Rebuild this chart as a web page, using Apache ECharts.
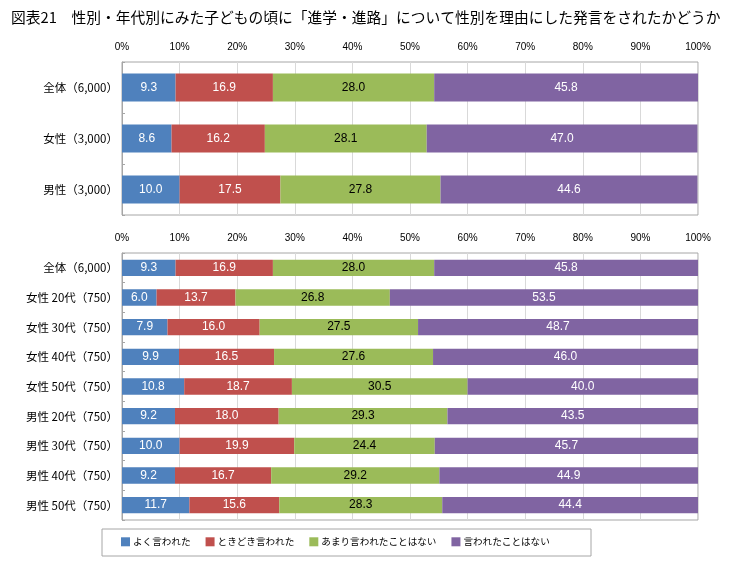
<!DOCTYPE html>
<html>
<head>
<meta charset="utf-8">
<script src="https://cdn.jsdelivr.net/npm/echarts@6/dist/echarts.min.js"></script>
<style>
  html, body { margin: 0; padding: 0; background: #fff; }
  #chart { width: 735px; height: 568px; }
</style>
</head>
<body>
<div id="chart"></div>
<script>
// 上段：性別
const topCategories = ["全体（6,000）", "女性（3,000）", "男性（3,000）"];
const topOften = [9.3, 8.6, 10.0];
const topSometimes = [16.9, 16.2, 17.5];
const topRarely = [28.0, 28.1, 27.8];
const topNever = [45.8, 47.0, 44.6];

// 下段：性別・年代別
const bottomCategories = [
  "全体（6,000）",
  "女性 20代（750）", "女性 30代（750）", "女性 40代（750）", "女性 50代（750）",
  "男性 20代（750）", "男性 30代（750）", "男性 40代（750）", "男性 50代（750）"
];
const bottomOften = [9.3, 6.0, 7.9, 9.9, 10.8, 9.2, 10.0, 9.2, 11.7];
const bottomSometimes = [16.9, 13.7, 16.0, 16.5, 18.7, 18.0, 19.9, 16.7, 15.6];
const bottomRarely = [28.0, 26.8, 27.5, 27.6, 30.5, 29.3, 24.4, 29.2, 28.3];
const bottomNever = [45.8, 53.5, 48.7, 46.0, 40.0, 43.5, 45.7, 44.9, 44.4];

const seriesNames = ["よく言われた", "ときどき言われた", "あまり言われたことはない", "言われたことはない"];
const colors = ["#4f81bd", "#c0504d", "#9bbb59", "#8064a2"];
const labelColors = ["#fff", "#fff", "#000", "#fff"];

const jpFont = "'Noto Sans CJK JP', sans-serif";
const numFont = "'Liberation Sans', Arial, sans-serif";

function makeXAxis(gridIndex) {
  return {
    type: "value",
    gridIndex: gridIndex,
    position: "top",
    min: 0,
    max: 100,
    interval: 10,
    axisLine: { show: false },
    axisTick: { show: false },
    axisLabel: {
      formatter: "{value}%",
      color: "#000",
      fontSize: 10,
      fontFamily: numFont,
      margin: 10
    },
    splitLine: { lineStyle: { color: "#d9d9d9", width: 1 } }
  };
}

function makeYAxis(gridIndex, cats) {
  return {
    type: "category",
    gridIndex: gridIndex,
    data: cats,
    inverse: true,
    axisLine: { show: true, lineStyle: { color: "#a6a6a6" } },
    axisTick: { show: true, inside: true, length: 3, lineStyle: { color: "#a6a6a6" } },
    axisLabel: {
      color: "#000",
      fontSize: 11.5,
      fontFamily: jpFont,
      margin: 4
    }
  };
}

function makeSeries(gridIndex, valueLists) {
  return valueLists.map((vals, i) => ({
    name: seriesNames[i],
    type: "bar",
    stack: "total" + gridIndex,
    xAxisIndex: gridIndex,
    yAxisIndex: gridIndex,
    barWidth: "55%",
    data: vals,
    itemStyle: { color: colors[i] },
    label: {
      show: true,
      position: "inside",
      color: labelColors[i],
      fontSize: 12,
      fontFamily: numFont,
      formatter: (p) => p.value.toFixed(1)
    }
  }));
}

const chart = echarts.init(document.getElementById("chart"));

const option = {
  animation: false,
  textStyle: { fontFamily: jpFont },
  title: {
    text: "図表21　性別・年代別にみた子どもの頃に「進学・進路」について性別を理由にした発言をされたかどうか",
    left: 6,
    top: 5,
    textStyle: { fontSize: 14.75, fontWeight: "normal", color: "#000", fontFamily: jpFont }
  },
  grid: [
    { left: 122, top: 62, width: 576, height: 153, show: true, borderColor: "#a6a6a6", borderWidth: 1 },
    { left: 122, top: 253, width: 576, height: 267, show: true, borderColor: "#a6a6a6", borderWidth: 1 }
  ],
  xAxis: [makeXAxis(0), makeXAxis(1)],
  yAxis: [makeYAxis(0, topCategories), makeYAxis(1, bottomCategories)],
  legend: {
    data: seriesNames,
    left: 116,
    top: 532,
    icon: "rect",
    itemWidth: 9,
    itemHeight: 9,
    itemGap: 15,
    textStyle: { fontSize: 9.6, color: "#000", fontFamily: jpFont, padding: [0, 0, 0, -2] }
  },
  graphic: [
    {
      type: "rect",
      shape: { x: 102, y: 529, width: 489, height: 27 },
      style: { fill: "none", stroke: "#a6a6a6", lineWidth: 1 }
    }
  ],
  series: [
    ...makeSeries(0, [topOften, topSometimes, topRarely, topNever]),
    ...makeSeries(1, [bottomOften, bottomSometimes, bottomRarely, bottomNever])
  ]
};

chart.setOption(option);

window.addEventListener("resize", () => {
  chart.resize();
});
</script>
</body>
</html>
